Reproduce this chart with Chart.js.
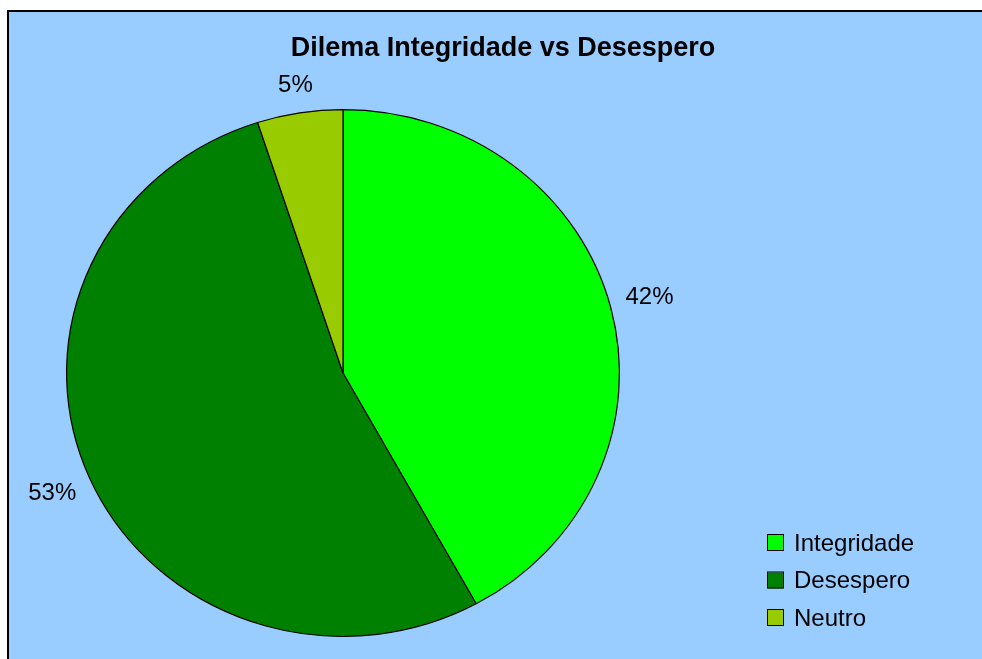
<!DOCTYPE html>
<html>
<head>
<meta charset="utf-8">
<script src="https://cdn.jsdelivr.net/npm/chart.js@4/dist/chart.umd.min.js"></script>
<style>
  html, body { margin: 0; padding: 0; background: #ffffff; width: 982px; height: 659px; overflow: hidden; }
  #frame { position: absolute; left: 7px; top: 10px; width: 990px; height: 660px;
           background: #99CCFF; border-left: 2px solid #000; border-top: 2px solid #000; box-sizing: border-box; }
  #c { position: absolute; left: 0; top: 0; }
</style>
</head>
<body>
<div id="frame"></div>
<canvas id="c" width="982" height="659"></canvas>
<script>
const titleText = 'Dilema Integridade vs Desespero';
const categories = ['Integridade', 'Desespero', 'Neutro'];
const values = [42, 53, 5];
const sliceColors = ['#00FF00', '#008000', '#99CC00'];

const YSCALE = 264 / 277; // pie is drawn slightly flattened, as in the reference

function mapY(arc, y) { return arc.y + (y - arc.y) * YSCALE; }

const ellipsePlugin = {
  id: 'ellipse',
  beforeDatasetsDraw(chart) {
    const arc = chart.getDatasetMeta(0).data[0];
    const ctx = chart.ctx;
    ctx.save();
    ctx.translate(arc.x, arc.y);
    ctx.scale(1, YSCALE);
    ctx.translate(-arc.x, -arc.y);
  },
  afterDatasetsDraw(chart) {
    chart.ctx.restore();
  }
};

const textPlugin = {
  id: 'texts',
  afterDraw(chart) {
    const ctx = chart.ctx;
    const meta = chart.getDatasetMeta(0);
    const total = values.reduce((a, b) => a + b, 0);
    ctx.save();
    // title
    ctx.fillStyle = '#000';
    ctx.font = 'bold 27px "Liberation Sans", Arial, sans-serif';
    ctx.textAlign = 'center';
    ctx.textBaseline = 'middle';
    ctx.fillText(titleText, 503, 49);

    // data labels (percentages) outside each slice
    ctx.font = '24px "Liberation Sans", Arial, sans-serif';
    meta.data.forEach((arc, i) => {
      const pct = Math.round(values[i] / total * 100) + '%';
      const mid = (arc.startAngle + arc.endAngle) / 2;
      const dx = Math.cos(mid), dy = Math.sin(mid);
      const w = ctx.measureText(pct).width, h = 22;
      const ext = Math.abs(dx) * w / 2 + Math.abs(dy) * h / 2;
      const r = arc.outerRadius;
      const ex = arc.x + dx * r;
      const ey = mapY(arc, arc.y + dy * r);
      const gap = 14;
      const lx = ex + dx * (gap + ext);
      const ly = ey + dy * (gap + ext);
      ctx.fillText(pct, lx, ly);
    });

    // legend
    ctx.textAlign = 'left';
    ctx.font = '24px "Liberation Sans", Arial, sans-serif';
    const ys = [543, 580.5, 618];
    categories.forEach((name, i) => {
      const y = ys[i];
      ctx.fillStyle = sliceColors[i];
      ctx.fillRect(767.5, y - 8, 16, 16);
      ctx.strokeStyle = '#000';
      ctx.lineWidth = 1;
      ctx.strokeRect(767.5, y - 8.5, 16, 16);
      ctx.fillStyle = '#000';
      ctx.fillText(name, 794, y + 1);
    });
    ctx.restore();
  }
};

new Chart(document.getElementById('c'), {
  type: 'pie',
  data: {
    labels: categories,
    datasets: [{
      data: values,
      backgroundColor: sliceColors,
      borderColor: '#000000',
      borderWidth: 1.2,
      hoverOffset: 0
    }]
  },
  options: {
    responsive: false,
    animation: false,
    devicePixelRatio: 1,
    layout: { padding: { left: 66, right: 362, top: 96, bottom: 9 } },
    plugins: {
      legend: { display: false },
      title: { display: false },
      tooltip: { enabled: false }
    }
  },
  plugins: [ellipsePlugin, textPlugin]
});
</script>
</body>
</html>
